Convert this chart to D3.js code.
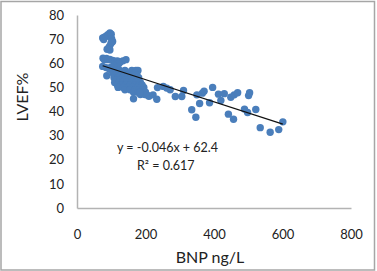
<!doctype html>
<html>
<head>
<meta charset="utf-8">
<script src="https://d3js.org/d3.v7.min.js"></script>
<style>
  body { margin: 0; background: #fff; }
  text { font-family: Lato, "Open Sans", sans-serif; fill: #222; }
</style>
</head>
<body>
<svg id="svg1" width="377" height="271"></svg>
<script>
// BNP (ng/L) and LVEF (%), one pair per dot
const bnp = [
  75, 78, 80, 85, 90, 96, 100, 101, 104, 99, 95, 92, 88, 96, 102,
  76, 80, 86, 90, 96, 104, 110, 118, 126, 134, 143, 115, 122, 108, 75, 85, 95, 100, 87,
  110, 125, 140, 160, 172, 178,
  105, 118, 132, 145, 155, 168,
  112, 128, 138, 150, 162, 175,
  108, 120, 135, 148, 158, 170, 180,
  115, 125, 140, 152, 165, 178,
  110, 122, 133, 145, 160, 172, 185,
  118, 130, 142, 155, 168, 180, 190,
  120, 135, 150, 162, 176, 188, 195,
  140, 155, 170, 182, 192,
  165, 178, 190, 200,
  185, 198, 165, 183,
  204, 210, 222, 233, 235, 252, 262, 272, 287, 306, 311,
  335, 347, 350, 358, 366, 371, 387, 396, 413, 420, 430,
  442, 449, 459, 469, 457, 489, 498, 501, 504, 522,
  535, 564, 589, 601
];
const lvef = [
  70.5, 69.8, 70.8, 71.2, 71.8, 72.6, 72, 70.2, 69, 68.2, 67, 66.2, 65.8, 65.5, 68.8,
  62.1, 61.5, 62, 61.5, 61.6, 61.2, 60.8, 61, 60.5, 61, 61.5, 59.5, 59.8, 59, 58.7, 58.2, 57.5, 58.5, 54.8,
  57, 57, 57, 57, 57, 57,
  56, 56, 56, 56, 56, 56,
  55, 55, 55, 55, 55, 55,
  54, 54, 54, 54, 54, 54, 54,
  53, 53, 53, 53, 53, 53,
  52, 52, 52, 52, 52, 52, 52,
  51, 51, 51, 51, 51, 51, 51,
  50, 50, 50, 50, 50, 50, 50,
  49, 49, 49, 49, 49,
  48, 48, 48, 48,
  47, 47, 45.3, 47.8,
  46.9, 46.3, 46.9, 45.1, 49.9, 50.4, 49.7, 49, 46.2, 46.2, 48.7,
  40.7, 37.6, 46.9, 43.3, 47.6, 48.4, 43.6, 50, 47.2, 44.6, 47.4,
  38.9, 45.9, 46.9, 47.8, 36.8, 41, 39.6, 46.6, 47.8, 40.8,
  33.3, 31.4, 32.5, 35.7
];
const xTicks = [0, 200, 400, 600, 800];
const yTicks = [0, 10, 20, 30, 40, 50, 60, 70, 80];
const slope = -0.046, intercept = 62.4;
const eqLabel = "y = -0.046x + 62.4";
const r2Label = "R² = 0.617";

const svg = d3.select("#svg1");

// outer frame
svg.append("rect")
  .attr("x", 1).attr("y", 1.5).attr("width", 373.5).attr("height", 268.5)
  .attr("fill", "none").attr("stroke", "#a6a6a6").attr("stroke-width", 1.5);

const xScale = d3.scaleLinear().domain([0, 800]).range([77, 351]);
const yScale = d3.scaleLinear().domain([0, 80]).range([208, 15]);

// axis lines, no ticks
const xAxis = svg.append("g")
  .attr("transform", `translate(0, ${yScale(0)})`)
  .call(d3.axisBottom(xScale).tickValues(xTicks).tickSize(0).tickPadding(22));
xAxis.select(".domain").attr("stroke", "#b3b3b3").attr("stroke-width", 1.5);
xAxis.selectAll(".tick text").attr("font-size", 13).attr("font-family", "Lato").attr("fill", "#222");

const yAxis = svg.append("g")
  .attr("transform", `translate(${xScale(0)}, 0)`)
  .call(d3.axisLeft(yScale).tickValues(yTicks).tickSize(0).tickPadding(13));
yAxis.select(".domain").attr("stroke", "#b3b3b3").attr("stroke-width", 1.5);
yAxis.selectAll(".tick text").attr("font-size", 13).attr("font-family", "Lato").attr("fill", "#222");

// dots
const pts = bnp.map((d, i) => ({ x: d, y: lvef[i] }));
svg.append("g").selectAll("circle")
  .data(pts)
  .join("circle")
  .attr("cx", d => xScale(d.x))
  .attr("cy", d => yScale(d.y))
  .attr("r", 3.7)
  .attr("fill", "#4a7ebb");

// linear trend line
const x0 = d3.min(bnp), x1 = d3.max(bnp);
svg.append("line")
  .attr("x1", xScale(x0)).attr("y1", yScale(intercept + slope * x0))
  .attr("x2", xScale(x1)).attr("y2", yScale(intercept + slope * x1))
  .attr("stroke", "#111").attr("stroke-width", 1.2);

// equation
svg.append("text").attr("x", 117).attr("y", 151.5).attr("font-size", 12.5).text(eqLabel);
svg.append("text").attr("x", 137).attr("y", 169.5).attr("font-size", 12.5).text(r2Label);

// axis titles
svg.append("text")
  .attr("x", 210).attr("y", 263)
  .attr("text-anchor", "middle").attr("font-size", 16)
  .text("BNP ng/L");
svg.append("text")
  .attr("transform", "translate(28, 97) rotate(-90)")
  .attr("text-anchor", "middle").attr("font-size", 16)
  .text("LVEF%");
</script>
</body>
</html>
